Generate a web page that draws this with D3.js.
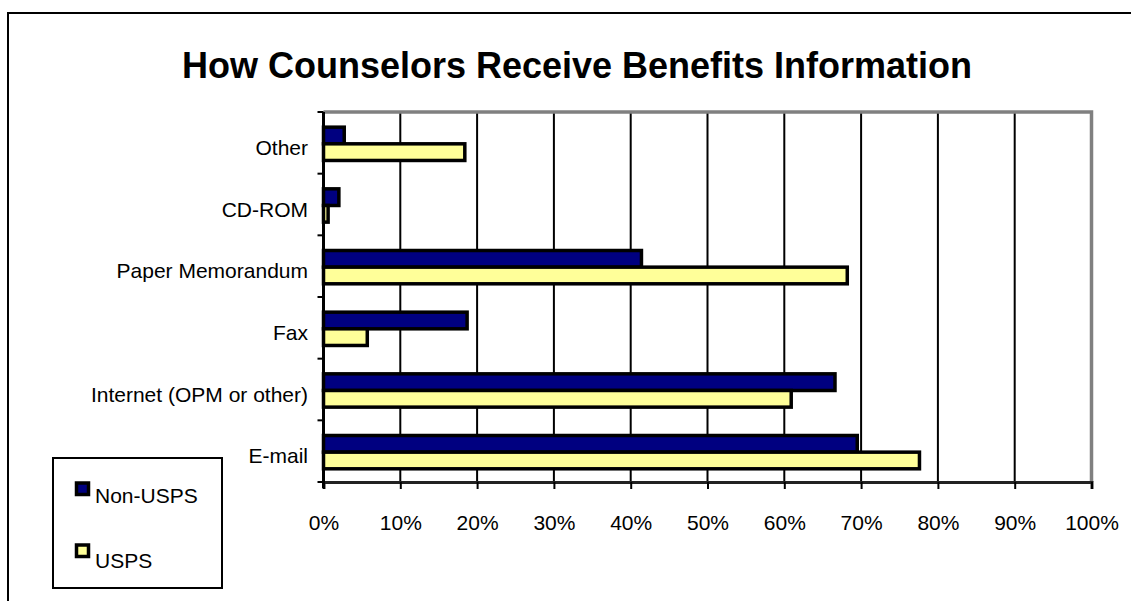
<!DOCTYPE html>
<html>
<head>
<meta charset="utf-8">
<style>
html, body { margin: 0; padding: 0; background: #fff; }
svg { display: block; font-family: Arial, "Liberation Sans", sans-serif; }
</style>
</head>
<body>
<svg width="1131" height="601"></svg>
<script src="https://cdn.jsdelivr.net/npm/d3@7/dist/d3.min.js"></script>
<script>
// chart data
var categories = ["Other", "CD-ROM", "Paper Memorandum", "Fax", "Internet (OPM or other)", "E-mail"];
var seriesNames = ["Non-USPS", "USPS"];
var nonUsps = [2.7, 2.0, 41.4, 18.7, 66.6, 69.5];
var usps = [18.4, 0.6, 68.2, 5.7, 60.9, 77.6];
var xTicks = [0, 10, 20, 30, 40, 50, 60, 70, 80, 90, 100];
var title = "How Counselors Receive Benefits Information";

var colors = { "Non-USPS": "#000080", "USPS": "#ffff99" };
var values = { "Non-USPS": nonUsps, "USPS": usps };

var svg = d3.select("svg");
var plotLeft = 323.5, plotRight = 1091.5, plotTop = 112, plotBottom = 482;

// outer chart border (runs off the page at right / bottom)
svg.append("rect")
    .attr("x", 8).attr("y", 13)
    .attr("width", 1200).attr("height", 700)
    .attr("fill", "#fff").attr("stroke", "#000").attr("stroke-width", 2);

svg.append("text")
    .attr("x", 577).attr("y", 78)
    .attr("text-anchor", "middle")
    .attr("font-size", 36).attr("font-weight", "bold")
    .text(title);

var x = d3.scaleLinear().domain([0, 100]).range([plotLeft, plotRight]);
var y = d3.scaleBand().domain(categories).range([plotTop, plotBottom]);
var ySub = d3.scaleBand().domain(seriesNames)
    .range([y.bandwidth() * 0.246, y.bandwidth() * 0.786]);

// gridlines
svg.append("g").selectAll("line")
    .data(xTicks.slice(1, -1))
  .enter().append("line")
    .attr("x1", function(d) { return x(d); })
    .attr("x2", function(d) { return x(d); })
    .attr("y1", plotTop).attr("y2", plotBottom)
    .attr("stroke", "#000").attr("stroke-width", 2);

// plot area border (top / right in gray)
svg.append("path")
    .attr("d", "M" + plotLeft + "," + plotTop + "H" + plotRight + "V" + plotBottom)
    .attr("fill", "none").attr("stroke", "#808080").attr("stroke-width", 3.5);

// bars
var rows = categories.map(function(c, i) {
  return { cat: c, bars: seriesNames.map(function(s) { return { s: s, v: values[s][i] }; }) };
});
var groups = svg.append("g").selectAll("g")
    .data(rows)
  .enter().append("g")
    .attr("transform", function(d) { return "translate(0," + y(d.cat) + ")"; });
groups.selectAll("rect")
    .data(function(d) { return d.bars; })
  .enter().append("rect")
    .attr("x", x(0))
    .attr("y", function(d) { return ySub(d.s); })
    .attr("width", function(d) { return x(d.v) - x(0); })
    .attr("height", ySub.bandwidth())
    .attr("fill", function(d) { return colors[d.s]; })
    .attr("stroke", "#000").attr("stroke-width", 3.5);

// x axis
var xAxis = svg.append("g")
    .attr("transform", "translate(0," + plotBottom + ")")
    .call(d3.axisBottom(x).tickValues(xTicks)
      .tickFormat(function(d) { return d + "%"; })
      .tickSize(7).tickPadding(26));
xAxis.select(".domain").attr("stroke", "#222").attr("stroke-width", 3);
xAxis.selectAll(".tick line").attr("stroke", "#000").attr("stroke-width", 2);
xAxis.selectAll("text").attr("font-size", 21).attr("fill", "#000")
    .attr("font-family", "Arial, 'Liberation Sans', sans-serif");

// y axis: line, ticks between categories, labels
var yAxis = svg.append("g");
yAxis.append("line")
    .attr("x1", plotLeft).attr("x2", plotLeft)
    .attr("y1", plotTop).attr("y2", plotBottom + 6)
    .attr("stroke", "#000").attr("stroke-width", 3);
yAxis.selectAll(".yt")
    .data(categories.map(function(c) { return y(c); }).concat([plotBottom]))
  .enter().append("line")
    .attr("class", "yt")
    .attr("x1", plotLeft - 6).attr("x2", plotLeft)
    .attr("y1", function(d) { return d; })
    .attr("y2", function(d) { return d; })
    .attr("stroke", "#000").attr("stroke-width", 2);
yAxis.selectAll("text")
    .data(categories)
  .enter().append("text")
    .attr("x", 308)
    .attr("y", function(d) { return y(d) + y.bandwidth() / 2 + 12; })
    .attr("text-anchor", "end")
    .attr("font-size", 21)
    .text(function(d) { return d; });

// legend
var legend = svg.append("g");
legend.append("rect")
    .attr("x", 53).attr("y", 458)
    .attr("width", 169).attr("height", 130)
    .attr("fill", "#fff").attr("stroke", "#000").attr("stroke-width", 2);
var items = legend.selectAll(".item")
    .data(seriesNames)
  .enter().append("g")
    .attr("class", "item");
items.append("rect")
    .attr("x", 76.5)
    .attr("y", function(d, i) { return 483 + i * 62; })
    .attr("width", 12).attr("height", 11.5)
    .attr("fill", function(d) { return colors[d]; })
    .attr("stroke", "#000").attr("stroke-width", 3.5);
items.append("text")
    .attr("x", 95)
    .attr("y", function(d, i) { return 503 + i * 65; })
    .attr("font-size", 21)
    .text(function(d) { return d; });
</script>
</body>
</html>
